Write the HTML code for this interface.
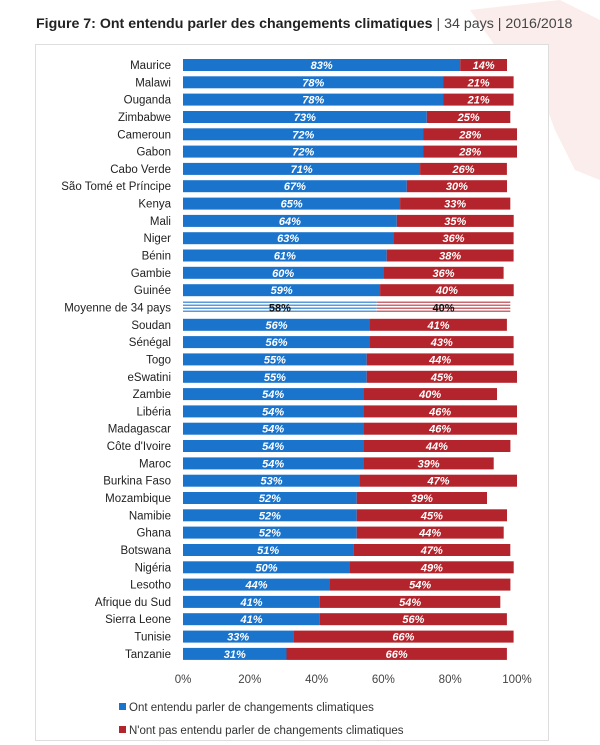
<!DOCTYPE html>
<html><head><meta charset="utf-8"><style>
html,body{margin:0;padding:0;background:#fff;width:600px;height:745px;overflow:hidden}
svg{display:block;font-family:"Liberation Sans",sans-serif}
.c{font-size:11.5px;fill:#222;text-anchor:end}
.v{font-size:11px;fill:#fff;font-weight:bold;font-style:italic;text-anchor:middle}
.b{fill:#1a74cc}.r{fill:#b3242c}
</style></head><body>
<svg width="600" height="745" viewBox="0 0 600 745">
<defs>
<pattern id="pb" width="4" height="3" patternUnits="userSpaceOnUse"><rect width="4" height="3" fill="#fff"/><rect width="4" height="1.5" fill="#5a9ad8"/></pattern>
<pattern id="pr" width="4" height="3" patternUnits="userSpaceOnUse"><rect width="4" height="3" fill="#fff"/><rect width="4" height="1.5" fill="#c86a70"/></pattern>
</defs>
<path d="M470 10 L560 0 L600 20 L600 180 L575 170 L555 130 L540 90 L505 60 Z" fill="#f4d6d2" opacity="0.45"/>
<text x="36" y="28" font-size="14.2" font-weight="bold" fill="#222">Figure 7: Ont entendu parler des changements climatiques <tspan font-weight="normal" fill="#444">| 34 pays | 2016/2018</tspan></text>
<rect x="35.5" y="44.5" width="513" height="696" fill="#fff" stroke="#ddd"/>
<g transform="translate(0,65)"><text class="c" x="171" y="4">Maurice</text><rect class="b" x="183" y="-6" width="277.2" height="12"/><rect class="r" x="460.2" y="-6" width="46.8" height="12"/><text class="v" x="321.6" y="4">83%</text><text class="v" x="483.6" y="4">14%</text></g>
<g transform="translate(0,82.3)"><text class="c" x="171" y="4">Malawi</text><rect class="b" x="183" y="-6" width="260.5" height="12"/><rect class="r" x="443.5" y="-6" width="70.1" height="12"/><text class="v" x="313.3" y="4">78%</text><text class="v" x="478.6" y="4">21%</text></g>
<g transform="translate(0,99.6)"><text class="c" x="171" y="4">Ouganda</text><rect class="b" x="183" y="-6" width="260.5" height="12"/><rect class="r" x="443.5" y="-6" width="70.1" height="12"/><text class="v" x="313.3" y="4">78%</text><text class="v" x="478.6" y="4">21%</text></g>
<g transform="translate(0,117)"><text class="c" x="171" y="4">Zimbabwe</text><rect class="b" x="183" y="-6" width="243.8" height="12"/><rect class="r" x="426.8" y="-6" width="83.5" height="12"/><text class="v" x="304.9" y="4">73%</text><text class="v" x="468.6" y="4">25%</text></g>
<g transform="translate(0,134.3)"><text class="c" x="171" y="4">Cameroun</text><rect class="b" x="183" y="-6" width="240.5" height="12"/><rect class="r" x="423.5" y="-6" width="93.5" height="12"/><text class="v" x="303.3" y="4">72%</text><text class="v" x="470.3" y="4">28%</text></g>
<g transform="translate(0,151.6)"><text class="c" x="171" y="4">Gabon</text><rect class="b" x="183" y="-6" width="240.5" height="12"/><rect class="r" x="423.5" y="-6" width="93.5" height="12"/><text class="v" x="303.3" y="4">72%</text><text class="v" x="470.3" y="4">28%</text></g>
<g transform="translate(0,168.9)"><text class="c" x="171" y="4">Cabo Verde</text><rect class="b" x="183" y="-6" width="237.1" height="12"/><rect class="r" x="420.1" y="-6" width="86.8" height="12"/><text class="v" x="301.6" y="4">71%</text><text class="v" x="463.5" y="4">26%</text></g>
<g transform="translate(0,186.2)"><text class="c" x="171" y="4">São Tomé et Príncipe</text><rect class="b" x="183" y="-6" width="223.8" height="12"/><rect class="r" x="406.8" y="-6" width="100.2" height="12"/><text class="v" x="294.9" y="4">67%</text><text class="v" x="456.9" y="4">30%</text></g>
<g transform="translate(0,203.6)"><text class="c" x="171" y="4">Kenya</text><rect class="b" x="183" y="-6" width="217.1" height="12"/><rect class="r" x="400.1" y="-6" width="110.2" height="12"/><text class="v" x="291.6" y="4">65%</text><text class="v" x="455.2" y="4">33%</text></g>
<g transform="translate(0,220.9)"><text class="c" x="171" y="4">Mali</text><rect class="b" x="183" y="-6" width="213.8" height="12"/><rect class="r" x="396.8" y="-6" width="116.9" height="12"/><text class="v" x="289.9" y="4">64%</text><text class="v" x="455.3" y="4">35%</text></g>
<g transform="translate(0,238.2)"><text class="c" x="171" y="4">Niger</text><rect class="b" x="183" y="-6" width="210.4" height="12"/><rect class="r" x="393.4" y="-6" width="120.2" height="12"/><text class="v" x="288.2" y="4">63%</text><text class="v" x="453.5" y="4">36%</text></g>
<g transform="translate(0,255.5)"><text class="c" x="171" y="4">Bénin</text><rect class="b" x="183" y="-6" width="203.7" height="12"/><rect class="r" x="386.7" y="-6" width="126.9" height="12"/><text class="v" x="284.9" y="4">61%</text><text class="v" x="450.2" y="4">38%</text></g>
<g transform="translate(0,272.8)"><text class="c" x="171" y="4">Gambie</text><rect class="b" x="183" y="-6" width="200.4" height="12"/><rect class="r" x="383.4" y="-6" width="120.2" height="12"/><text class="v" x="283.2" y="4">60%</text><text class="v" x="443.5" y="4">36%</text></g>
<g transform="translate(0,290.2)"><text class="c" x="171" y="4">Guinée</text><rect class="b" x="183" y="-6" width="197.1" height="12"/><rect class="r" x="380.1" y="-6" width="133.6" height="12"/><text class="v" x="281.6" y="4">59%</text><text class="v" x="446.9" y="4">40%</text></g>
<g transform="translate(0,307.5)"><text class="c" x="171" y="4">Moyenne de 34 pays</text><rect fill="url(#pb)" x="183" y="-6" width="193.7" height="12"/><rect fill="url(#pr)" x="376.7" y="-6" width="133.6" height="12"/><text class="v" style="fill:#111;font-style:normal" x="279.9" y="4">58%</text><text class="v" style="fill:#111;font-style:normal" x="443.5" y="4">40%</text></g>
<g transform="translate(0,324.8)"><text class="c" x="171" y="4">Soudan</text><rect class="b" x="183" y="-6" width="187" height="12"/><rect class="r" x="370" y="-6" width="136.9" height="12"/><text class="v" x="276.5" y="4">56%</text><text class="v" x="438.5" y="4">41%</text></g>
<g transform="translate(0,342.1)"><text class="c" x="171" y="4">Sénégal</text><rect class="b" x="183" y="-6" width="187" height="12"/><rect class="r" x="370" y="-6" width="143.6" height="12"/><text class="v" x="276.5" y="4">56%</text><text class="v" x="441.8" y="4">43%</text></g>
<g transform="translate(0,359.4)"><text class="c" x="171" y="4">Togo</text><rect class="b" x="183" y="-6" width="183.7" height="12"/><rect class="r" x="366.7" y="-6" width="147" height="12"/><text class="v" x="274.9" y="4">55%</text><text class="v" x="440.2" y="4">44%</text></g>
<g transform="translate(0,376.8)"><text class="c" x="171" y="4">eSwatini</text><rect class="b" x="183" y="-6" width="183.7" height="12"/><rect class="r" x="366.7" y="-6" width="150.3" height="12"/><text class="v" x="274.9" y="4">55%</text><text class="v" x="441.9" y="4">45%</text></g>
<g transform="translate(0,394.1)"><text class="c" x="171" y="4">Zambie</text><rect class="b" x="183" y="-6" width="180.4" height="12"/><rect class="r" x="363.4" y="-6" width="133.6" height="12"/><text class="v" x="273.2" y="4">54%</text><text class="v" x="430.2" y="4">40%</text></g>
<g transform="translate(0,411.4)"><text class="c" x="171" y="4">Libéria</text><rect class="b" x="183" y="-6" width="180.4" height="12"/><rect class="r" x="363.4" y="-6" width="153.6" height="12"/><text class="v" x="273.2" y="4">54%</text><text class="v" x="440.2" y="4">46%</text></g>
<g transform="translate(0,428.7)"><text class="c" x="171" y="4">Madagascar</text><rect class="b" x="183" y="-6" width="180.4" height="12"/><rect class="r" x="363.4" y="-6" width="153.6" height="12"/><text class="v" x="273.2" y="4">54%</text><text class="v" x="440.2" y="4">46%</text></g>
<g transform="translate(0,446)"><text class="c" x="171" y="4">Côte d'Ivoire</text><rect class="b" x="183" y="-6" width="180.4" height="12"/><rect class="r" x="363.4" y="-6" width="147" height="12"/><text class="v" x="273.2" y="4">54%</text><text class="v" x="436.9" y="4">44%</text></g>
<g transform="translate(0,463.4)"><text class="c" x="171" y="4">Maroc</text><rect class="b" x="183" y="-6" width="180.4" height="12"/><rect class="r" x="363.4" y="-6" width="130.3" height="12"/><text class="v" x="273.2" y="4">54%</text><text class="v" x="428.6" y="4">39%</text></g>
<g transform="translate(0,480.7)"><text class="c" x="171" y="4">Burkina Faso</text><rect class="b" x="183" y="-6" width="177" height="12"/><rect class="r" x="360" y="-6" width="157" height="12"/><text class="v" x="271.5" y="4">53%</text><text class="v" x="438.5" y="4">47%</text></g>
<g transform="translate(0,498)"><text class="c" x="171" y="4">Mozambique</text><rect class="b" x="183" y="-6" width="173.7" height="12"/><rect class="r" x="356.7" y="-6" width="130.3" height="12"/><text class="v" x="269.9" y="4">52%</text><text class="v" x="421.9" y="4">39%</text></g>
<g transform="translate(0,515.3)"><text class="c" x="171" y="4">Namibie</text><rect class="b" x="183" y="-6" width="173.7" height="12"/><rect class="r" x="356.7" y="-6" width="150.3" height="12"/><text class="v" x="269.9" y="4">52%</text><text class="v" x="431.9" y="4">45%</text></g>
<g transform="translate(0,532.6)"><text class="c" x="171" y="4">Ghana</text><rect class="b" x="183" y="-6" width="173.7" height="12"/><rect class="r" x="356.7" y="-6" width="147" height="12"/><text class="v" x="269.9" y="4">52%</text><text class="v" x="430.2" y="4">44%</text></g>
<g transform="translate(0,550)"><text class="c" x="171" y="4">Botswana</text><rect class="b" x="183" y="-6" width="170.3" height="12"/><rect class="r" x="353.3" y="-6" width="157" height="12"/><text class="v" x="268.2" y="4">51%</text><text class="v" x="431.8" y="4">47%</text></g>
<g transform="translate(0,567.3)"><text class="c" x="171" y="4">Nigéria</text><rect class="b" x="183" y="-6" width="167" height="12"/><rect class="r" x="350" y="-6" width="163.7" height="12"/><text class="v" x="266.5" y="4">50%</text><text class="v" x="431.9" y="4">49%</text></g>
<g transform="translate(0,584.6)"><text class="c" x="171" y="4">Lesotho</text><rect class="b" x="183" y="-6" width="147" height="12"/><rect class="r" x="330" y="-6" width="180.4" height="12"/><text class="v" x="256.5" y="4">44%</text><text class="v" x="420.2" y="4">54%</text></g>
<g transform="translate(0,601.9)"><text class="c" x="171" y="4">Afrique du Sud</text><rect class="b" x="183" y="-6" width="136.9" height="12"/><rect class="r" x="319.9" y="-6" width="180.4" height="12"/><text class="v" x="251.5" y="4">41%</text><text class="v" x="410.1" y="4">54%</text></g>
<g transform="translate(0,619.2)"><text class="c" x="171" y="4">Sierra Leone</text><rect class="b" x="183" y="-6" width="136.9" height="12"/><rect class="r" x="319.9" y="-6" width="187" height="12"/><text class="v" x="251.5" y="4">41%</text><text class="v" x="413.4" y="4">56%</text></g>
<g transform="translate(0,636.6)"><text class="c" x="171" y="4">Tunisie</text><rect class="b" x="183" y="-6" width="110.2" height="12"/><rect class="r" x="293.2" y="-6" width="220.4" height="12"/><text class="v" x="238.1" y="4">33%</text><text class="v" x="403.4" y="4">66%</text></g>
<g transform="translate(0,653.9)"><text class="c" x="171" y="4">Tanzanie</text><rect class="b" x="183" y="-6" width="103.5" height="12"/><rect class="r" x="286.5" y="-6" width="220.4" height="12"/><text class="v" x="234.8" y="4">31%</text><text class="v" x="396.7" y="4">66%</text></g>
<g font-size="11.5" fill="#444" text-anchor="middle">
<text x="183" y="683">0%</text><text x="249.8" y="683">20%</text><text x="316.6" y="683">40%</text><text x="383.4" y="683">60%</text><text x="450.2" y="683">80%</text><text x="517" y="683">100%</text>
</g>
<rect x="119" y="703" width="7" height="7" fill="#1a74cc"/>
<text x="129" y="711" font-size="11.5" fill="#333">Ont entendu parler de changements climatiques</text>
<rect x="119" y="726" width="7" height="7" fill="#b3242c"/>
<text x="129" y="734" font-size="11.5" fill="#333">N'ont pas entendu parler de changements climatiques</text>
</svg>
</body></html>
